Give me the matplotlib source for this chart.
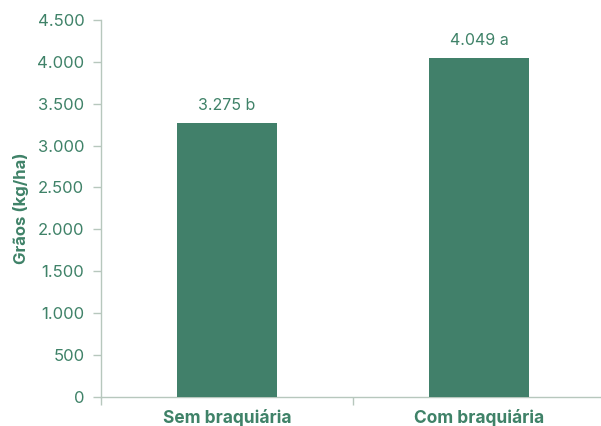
import matplotlib
matplotlib.use("Agg")
import matplotlib.pyplot as plt
from matplotlib.ticker import FuncFormatter, FixedLocator

categories = ["Sem braquiária", "Com braquiária"]
values = [3275, 4049]
letters = ["b", "a"]
yticks = [0, 500, 1000, 1500, 2000, 2500, 3000, 3500, 4000, 4500]

green = "#41806A"
text_green = "#3F8268"
axis_col = "#B7C7BD"

plt.rcParams['font.family'] = ['Inter', 'DejaVu Sans']

fig = plt.figure(figsize=(6.01, 4.26), dpi=100)
ax = fig.add_axes([101/601, 29.3/426, 500/601, (396.7-20)/426])

x = list(range(len(categories)))
ax.bar(x, values, width=0.4, color=green, zorder=3)

for xi, v, l in zip(x, values, letters):
    s = f"{v:,}".replace(",", ".") + " " + l
    ax.annotate(s, (xi, v), xytext=(0, 7), textcoords="offset points",
                ha="center", va="bottom", fontsize=11.5, color=text_green)

ax.set_ylim(0, 4500)
ax.set_xlim(-0.5, -0.5 + 500/252)
ax.yaxis.set_major_locator(FixedLocator(yticks))
ax.yaxis.set_major_formatter(FuncFormatter(lambda v, p: f"{int(v):,}".replace(",", ".")))

ax.set_xticks([-0.5, 0.5])
ax.set_xticklabels([])
ax.set_xticks(x, minor=True)
ax.set_xticklabels(categories, minor=True, fontsize=12.5, fontweight="bold", color=text_green)
ax.tick_params(axis="x", which="minor", length=0, pad=9)
ax.tick_params(axis="x", which="major", length=6, color=axis_col, width=1)
ax.tick_params(axis="y", length=6, color=axis_col, width=1, labelsize=12, labelcolor=text_green, pad=6)

for side in ["top", "right"]:
    ax.spines[side].set_visible(False)
for side in ["left", "bottom"]:
    ax.spines[side].set_color(axis_col)
    ax.spines[side].set_linewidth(1)

ax.set_ylabel("Grãos (kg/ha)", fontsize=12, fontweight="bold", color=text_green, labelpad=6)

fig.savefig("out.png", dpi=100)
